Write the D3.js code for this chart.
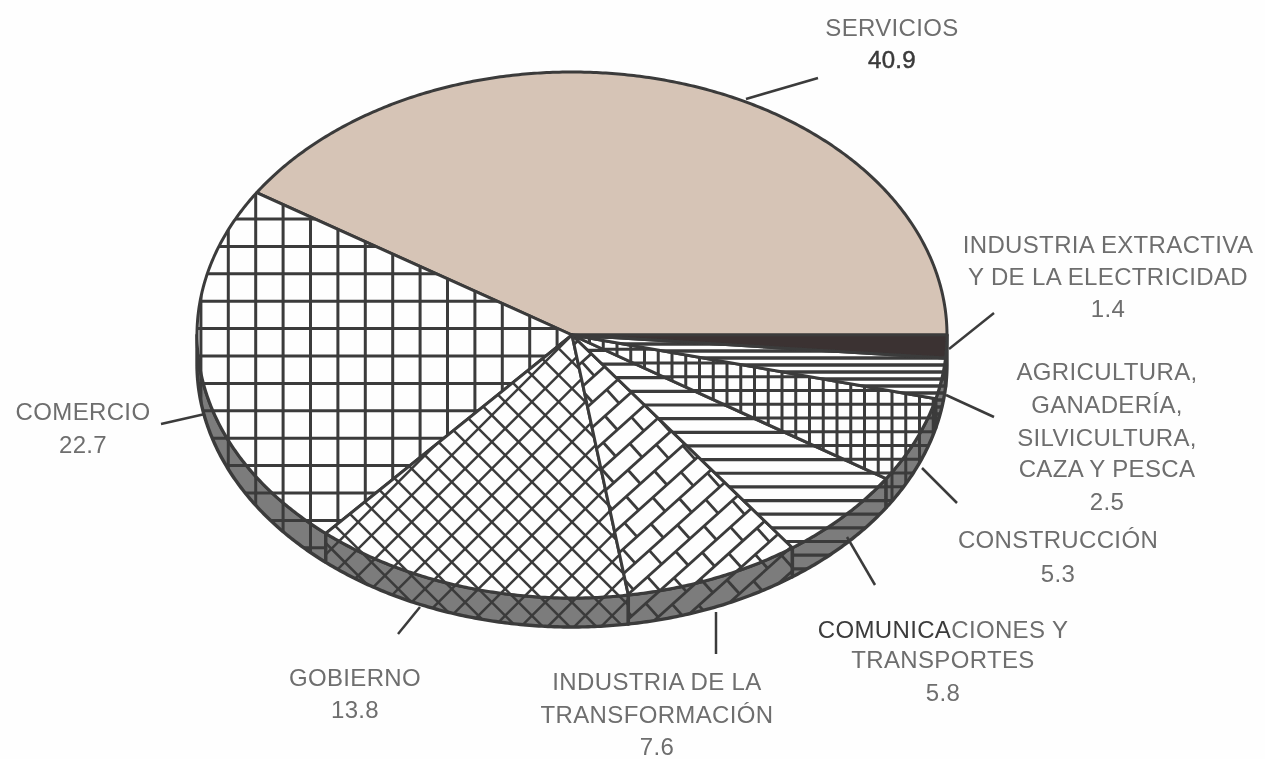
<!DOCTYPE html>
<html>
<head>
<meta charset="utf-8">
<script src="https://cdnjs.cloudflare.com/ajax/libs/d3/7.8.5/d3.min.js"></script>
<style>
body { margin: 0; background: #fefefe; }
text { font-family: "Liberation Sans", sans-serif; font-size: 24px; letter-spacing: 0.35px; fill: #6e6e6e; text-anchor: middle; }
</style>
</head>
<body>
<svg id="chart" width="1265" height="759"></svg>
<script>
// counter-clockwise from 3 o'clock, as in the picture
var categories = ['SERVICIOS', 'COMERCIO', 'GOBIERNO', 'INDUSTRIA DE LA TRANSFORMACIÓN', 'COMUNICACIONES Y TRANSPORTES', 'CONSTRUCCIÓN', 'AGRICULTURA', 'INDUSTRIA EXTRACTIVA'];
var values = [40.9, 22.7, 13.8, 7.6, 5.8, 5.3, 2.5, 1.4];
var hatches = ['plain', 'grid', 'diamond', 'brick', 'wideLines', 'smallGrid', 'thinLines', 'solid'];

var labelLines = [
	['SERVICIOS', '40.9'],
	['COMERCIO', '22.7'],
	['GOBIERNO', '13.8'],
	['INDUSTRIA DE LA', 'TRANSFORMACIÓN', '7.6'],
	['COMUNICACIONES Y', 'TRANSPORTES', '5.8'],
	['CONSTRUCCIÓN', '5.3'],
	['AGRICULTURA,', 'GANADERÍA,', 'SILVICULTURA,', 'CAZA Y PESCA', '2.5'],
	['INDUSTRIA EXTRACTIVA', 'Y DE LA ELECTRICIDAD', '1.4']
];
// center x and baselines of each label
var labelX = [892, 83, 355, 657, 943, 1058, 1107, 1108];
var labelY = [
	[36, 68],
	[420, 453],
	[686, 718],
	[690, 723, 755],
	[638, 668, 701],
	[548, 582],
	[380, 413, 446, 477, 510],
	[253, 285, 317]
];
// from the pie rim out to the label
var leaders = [
	[[746, 99], [818, 78]],
	[[205, 414], [161, 424]],
	[[420, 607], [398, 634]],
	[[716, 612], [716, 654]],
	[[847, 537], [875, 585]],
	[[922, 468], [957, 503]],
	[[946, 395], [994, 417]],
	[[949, 349], [994, 313]]
];

// hatch spacing and anchor
var hatchSpec = {
	grid: {ox: 228.3, oy: 356, angle: 0, dx: 27.4, dy: 27.4, w: 3},
	diamond: {ox: 572, oy: 335, angle: 45, dx: 18.9, dy: 18.9, w: 2.5},
	brick: {ox: 628, oy: 470, angle: -42, dx: 38, dy: 18.5, w: 2.8},
	wideLines: {ox: 0, oy: 405, angle: 0, dx: 0, dy: 13.65, w: 3.2},
	smallGrid: {ox: 782, oy: 376.7, angle: 0, dx: 13.75, dy: 13.75, w: 3},
	thinLines: {ox: 0, oy: 365, angle: 0, dx: 0, dy: 7, w: 3.5}
};

var cx = 572, cy = 335, rx = 375, ry = 263, depth = 29;
var lineColor = '#3b3b3b', wallColor = '#7c7c7c', servicesColor = '#d6c4b6', solidColor = '#3a3232', paper = '#fefefe';

var svg = d3.select('#chart');
var defs = svg.append('defs');
defs.append('filter').attr('id', 'scan').append('feGaussianBlur').attr('stdDeviation', 0.45);

var xScale = d3.scaleLinear().domain([-1, 1]).range([cx - rx, cx + rx]);
var yScale = d3.scaleLinear().domain([-1, 1]).range([cy + ry, cy - ry]);
var line = d3.line();

function rim(a, dy) {
	return [xScale(Math.cos(a)), yScale(Math.sin(a)) + (dy || 0)];
}
function arcPoints(a0, a1, dy) {
	var n = Math.max(2, Math.ceil((a1 - a0) * 120));
	return d3.range(n + 1).map(function(i) {
		return rim(a0 + (a1 - a0) * i / n, dy);
	});
}

function hatchLine(g, x1, y1, x2, y2, w) {
	g.append('line').attr('x1', x1).attr('y1', y1).attr('x2', x2).attr('y2', y2)
		.attr('stroke', lineColor).attr('stroke-width', w);
}

function drawHatch(parent, kind) {
	var s = hatchSpec[kind];
	var g = parent.append('g').attr('transform', 'translate(' + s.ox + ',' + s.oy + ') rotate(' + s.angle + ')');
	var far = 1400;
	var rows = d3.range(-Math.ceil(far / s.dy), Math.ceil(far / s.dy));
	rows.forEach(function(r) {
		hatchLine(g, -far, r * s.dy, far, r * s.dy, s.w);
	});
	if (kind == 'brick') {
		// joints, shifted half a brick on every other row
		rows.forEach(function(r) {
			var shift = (r % 2 == 0) ? 0 : s.dx / 2;
			d3.range(-Math.ceil(far / s.dx), Math.ceil(far / s.dx)).forEach(function(c) {
				hatchLine(g, c * s.dx + shift, r * s.dy, c * s.dx + shift, (r + 1) * s.dy, s.w);
			});
		});
	} else if (s.dx) {
		d3.range(-Math.ceil(far / s.dx), Math.ceil(far / s.dx)).forEach(function(c) {
			hatchLine(g, c * s.dx, -far, c * s.dx, far, s.w);
		});
	}
}

var clipCount = 0;
function drawRegion(parent, d, kind, bg, strokeWidth) {
	var fill = kind == 'plain' ? servicesColor : kind == 'solid' ? solidColor : bg;
	parent.append('path').attr('d', d).attr('fill', fill);
	if (hatchSpec[kind]) {
		var id = 'clip-' + (clipCount++);
		defs.append('clipPath').attr('id', id).append('path').attr('d', d);
		drawHatch(parent.append('g').attr('clip-path', 'url(#' + id + ')'), kind);
	}
	parent.append('path').attr('d', d).attr('fill', 'none')
		.attr('stroke', lineColor).attr('stroke-width', strokeWidth).attr('stroke-linejoin', 'round');
}

var slices = d3.pie().sort(null).startAngle(0).endAngle(2 * Math.PI)(values);
var root = svg.append('g').attr('filter', 'url(#scan)');

// side wall, only the lower half of the ellipse shows
var wall = root.append('g');
slices.forEach(function(s, i) {
	var a0 = Math.max(s.startAngle, Math.PI), a1 = s.endAngle;
	if (a1 <= Math.PI) return;
	var top = arcPoints(a0, a1, 0), bottom = arcPoints(a0, a1, depth).reverse();
	drawRegion(wall, line(top.concat(bottom)) + 'Z', hatches[i], wallColor, 3.4);
});

// top face
var face = root.append('g');
slices.forEach(function(s, i) {
	var d = line([[cx, cy]].concat(arcPoints(s.startAngle, s.endAngle, 0))) + 'Z';
	drawRegion(face, d, hatches[i], paper, 3);
});

root.append('g').selectAll('path').data(leaders).enter().append('path')
	.attr('d', function(d) { return line(d); })
	.attr('fill', 'none').attr('stroke', lineColor).attr('stroke-width', 2.5);

var labels = root.append('g');
labelLines.forEach(function(lines, i) {
	lines.forEach(function(str, j) {
		var t = labels.append('text').attr('x', labelX[i]).attr('y', labelY[i][j]);
		if (str == '40.9') {
			t.text(str).style('fill', '#3a3a3a').style('stroke', '#3a3a3a').style('stroke-width', 0.5);
		} else if (str == 'COMUNICACIONES Y') {
			t.append('tspan').style('fill', '#3a3a3a').text('COMUNICA');
			t.append('tspan').text('CIONES Y');
		} else {
			t.text(str);
		}
	});
});
</script>
</body>
</html>
